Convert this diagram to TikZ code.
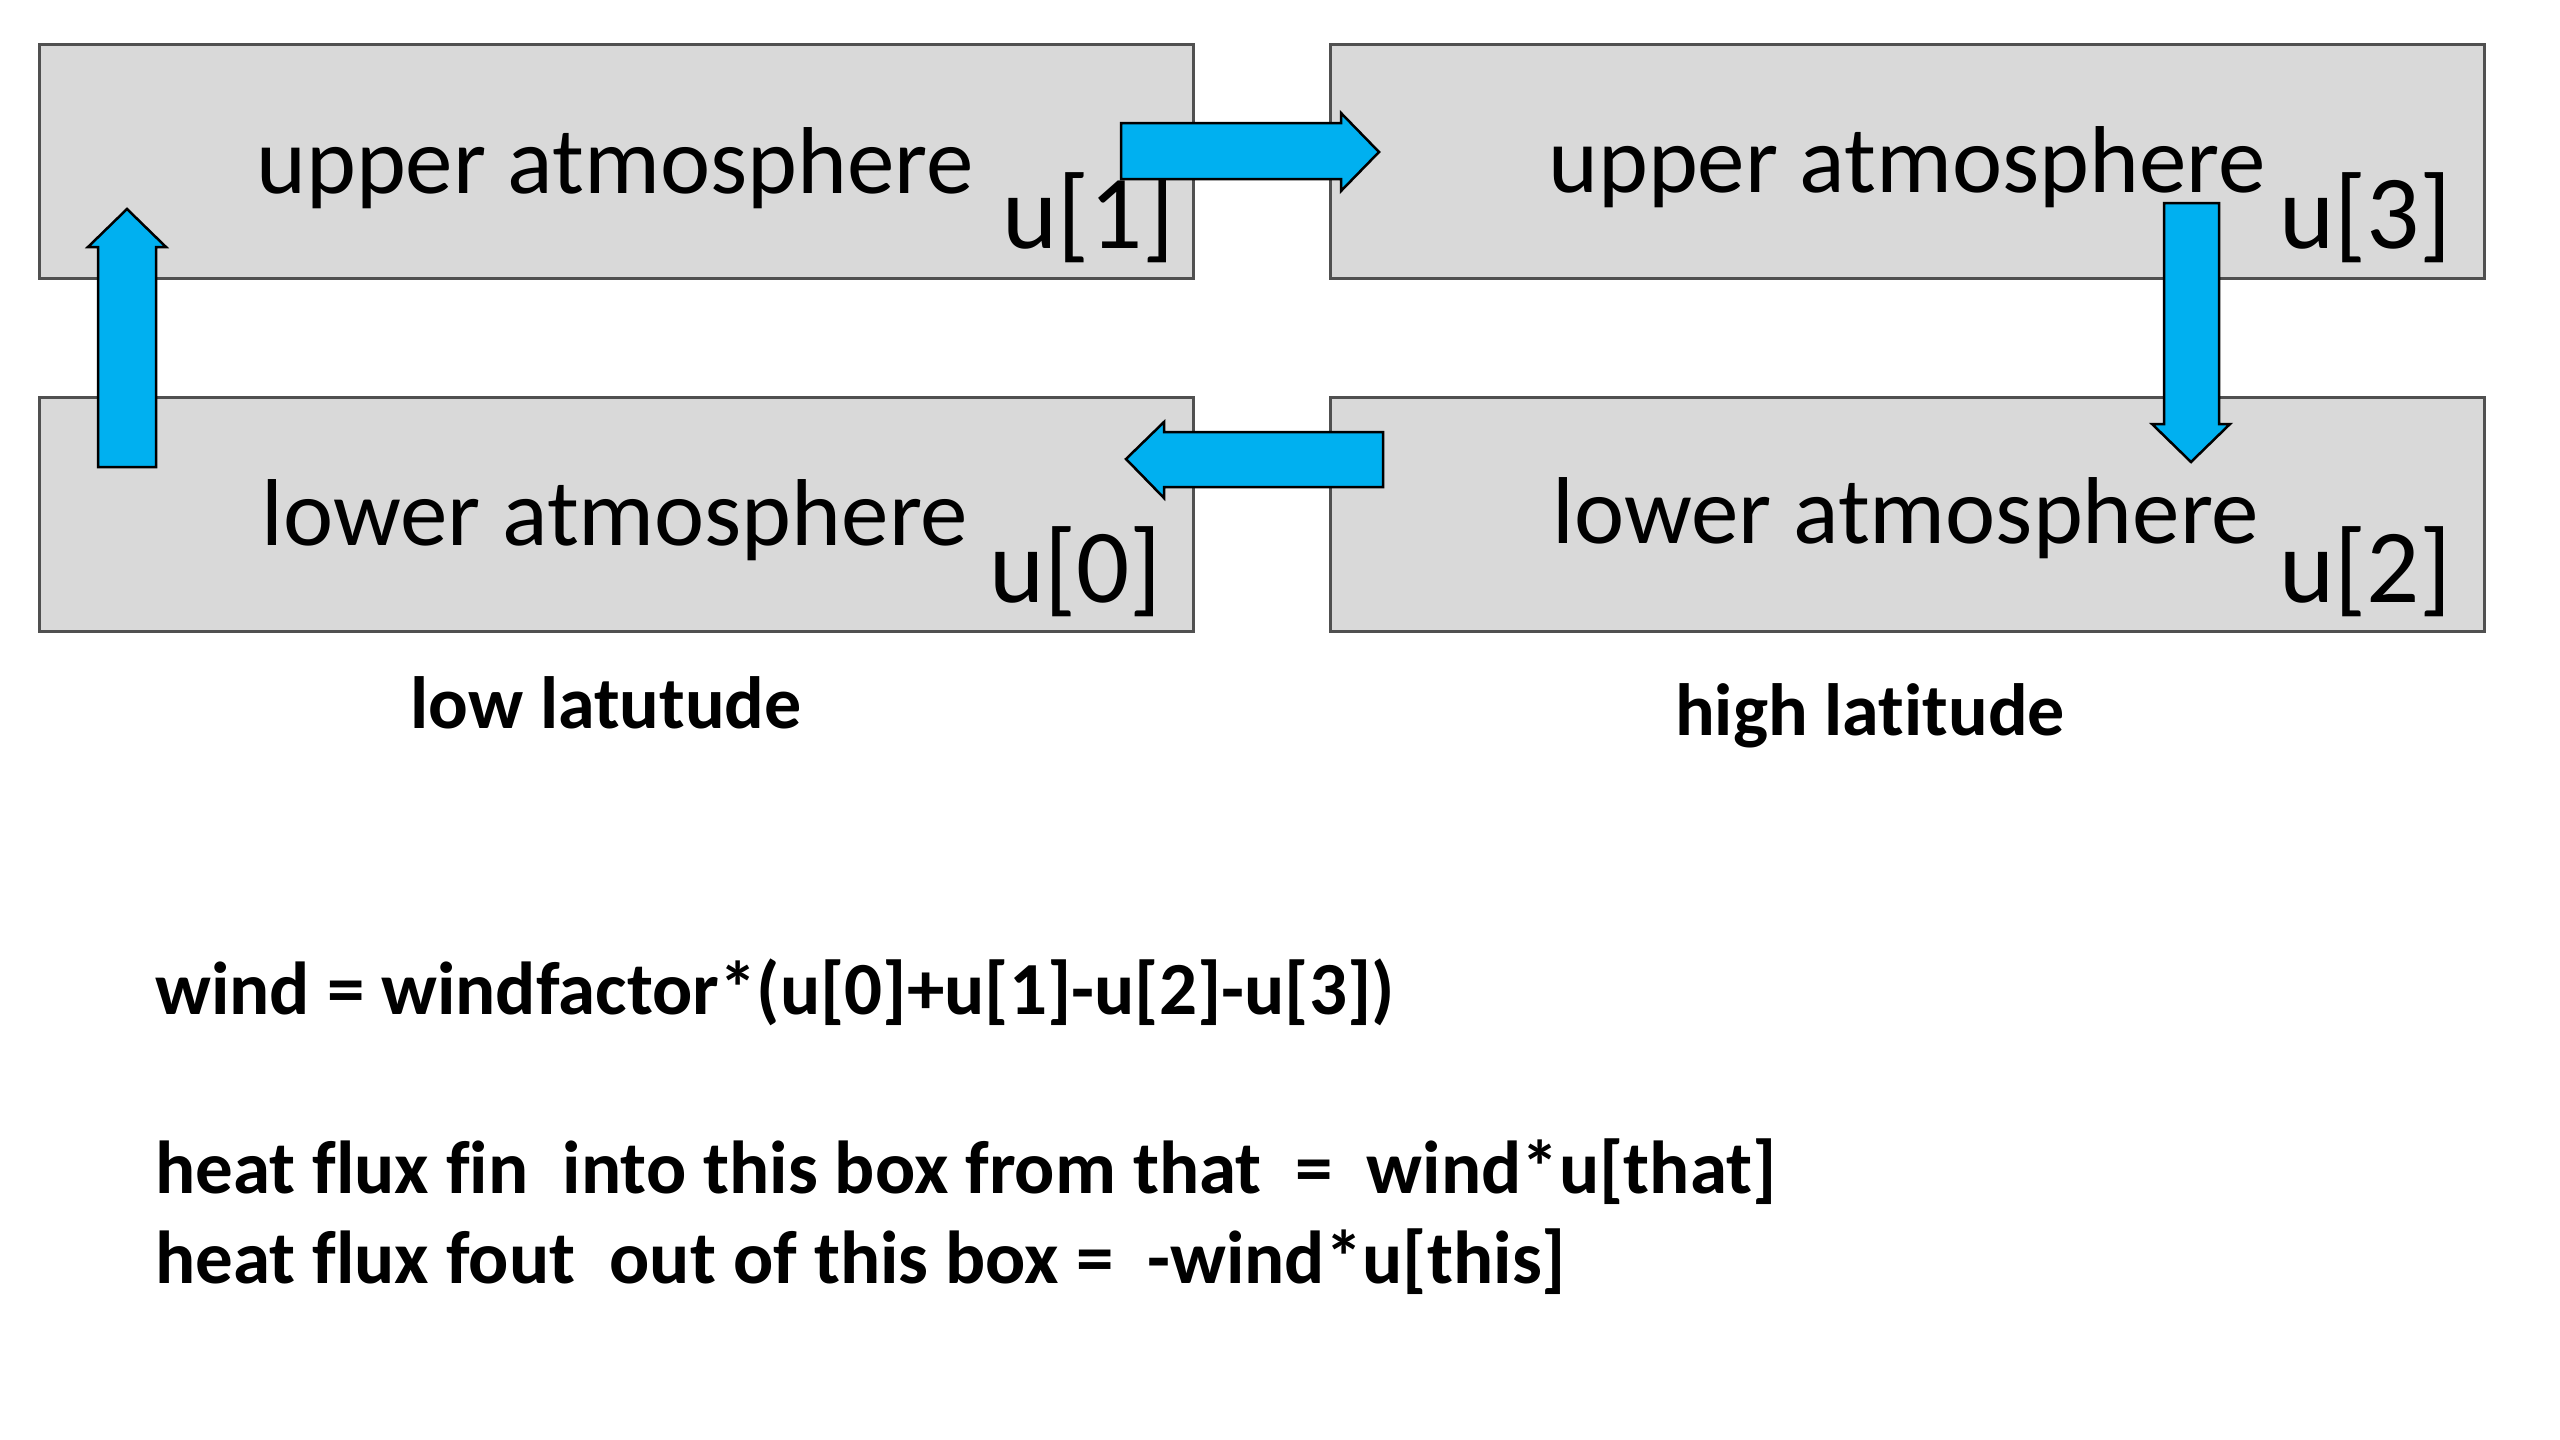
\documentclass[tikz,border=0pt]{standalone}
\usepackage{fontspec}
\setmainfont{Carlito}[Ligatures=NoCommon]
\definecolor{boxfill}{HTML}{D9D9D9}
\definecolor{boxline}{HTML}{505050}
\definecolor{arrowblue}{HTML}{00B0F0}
\begin{document}
\begin{tikzpicture}[x=1pt,y=-1pt,
  box/.style={draw=boxline, fill=boxfill, line width=3pt, inner sep=0pt,
    minimum width=1154pt, minimum height=234pt, anchor=north west},
  blockarrow/.style={draw=black, fill=arrowblue, line width=2.5pt, line join=miter},
  maintext/.style={inner sep=0pt, anchor=base, font=\fontsize{95}{114}\selectfont},
  idxtext/.style={inner sep=0pt, anchor=base east, font=\fontsize{105}{126}\selectfont},
  boldlabel/.style={inner sep=0pt, anchor=base, font=\fontsize{74}{89}\selectfont\bfseries},
  eqtext/.style={inner sep=0pt, anchor=base west, font=\fontsize{75}{90}\selectfont\bfseries}]
\useasboundingbox[fill=white] (0,0) rectangle (2560,1440);

% boxes
\node[box] (ul) at (38,43) {};
\node[box] (ll) at (38,396) {};
\node[box] (ur) at (1329,43) {};
\node[box] (lr) at (1329,396) {};

% box texts
\node[maintext] (ult) at (615,193) {upper atmosphere};
\node[maintext] (llt) at (615,545) {lower atmosphere};
\node[maintext] (urt) at (1907,192) {upper atmosphere};
\node[maintext] (lrt) at (1906,543) {lower atmosphere};
\node[idxtext] (u1) at (1175,248) {u[1]};
\node[idxtext] (u0) at (1162,602) {u[0]};
\node[idxtext] (u3) at (2452,248) {u[3]};
\node[idxtext] (u2) at (2452,602) {u[2]};

% block arrows
% up: lower-left -> upper-left
\draw[blockarrow] (98,467) -- (98,247) -- (88,247) -- (127,209) -- (166,247) -- (156,247) -- (156,467) -- cycle;
% right: upper-left -> upper-right
\draw[blockarrow] (1121,123) -- (1341,123) -- (1341,113) -- (1379,152) -- (1341,191) -- (1341,179) -- (1121,179) -- cycle;
% down: upper-right -> lower-right
\draw[blockarrow] (2164,203) -- (2164,424) -- (2152,424) -- (2191,462) -- (2230,424) -- (2219,424) -- (2219,203) -- cycle;
% left: lower-right -> lower-left
\draw[blockarrow] (1383,432) -- (1164,432) -- (1164,422) -- (1126,459) -- (1164,498) -- (1164,487) -- (1383,487) -- cycle;

% latitude labels
\node[boldlabel] (lowlat) at (606,728) {low latutude};
\node[boldlabel] (highlat) at (1870,735) {high latitude};

% equations
\node[eqtext] (eq1) at (155,1014) {wind = windfactor*(u[0]+u[1]-u[2]-u[3])};
\node[eqtext] (eq2) at (155,1193) {heat flux fin\ \ into this box from that\ \ =\ \ wind*u[that]};
\node[eqtext] (eq3) at (155,1283) {heat flux fout\ \ out of this box =\ \ -wind*u[this]};
\end{tikzpicture}
\end{document}
